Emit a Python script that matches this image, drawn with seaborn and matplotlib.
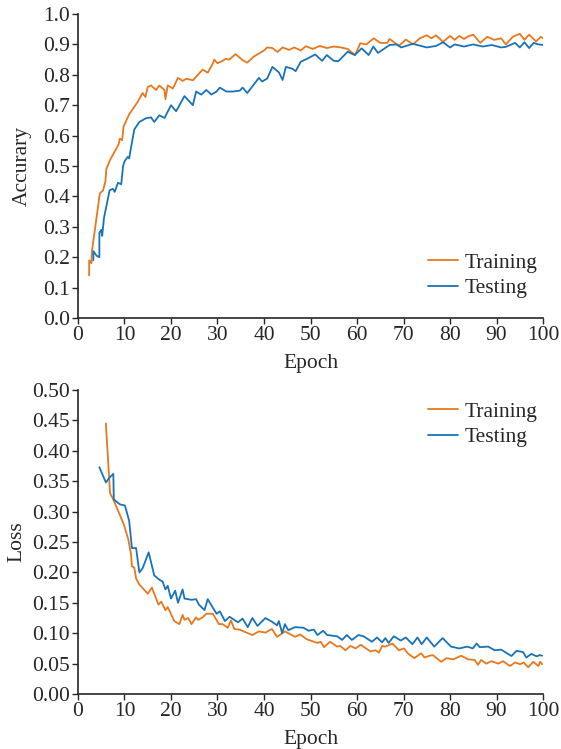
import pandas as pd
import matplotlib
matplotlib.use("Agg")
import matplotlib.pyplot as plt
import seaborn as sns

# accuracy curves (epoch, value)
acc_train_epoch = [2.4, 2.4, 2.9, 3.0, 4.7, 5.4, 5.9, 6.1, 6.9, 8.7, 9.0, 9.5, 9.8, 11.0, 12.8, 13.9,
                   14.5, 15.0, 15.7, 16.8, 17.5, 18.6, 18.8, 19.3, 20.4, 21.5, 22.5, 23.3, 24.7, 26.8,
                   27.9, 29.0, 29.3, 30.0, 31.0, 31.8, 32.5, 33.9, 35.4, 36.4, 37.8, 38.9, 40.0, 40.7,
                   41.8, 42.9, 44.0, 45.4, 46.5, 47.9, 49.0, 50.5, 52.0, 53.5, 55.0, 56.5, 58.0, 59.6,
                   60.7, 62.0, 63.6, 65.0, 66.5, 67.0, 69.0, 70.5, 72.0, 73.5, 75.0, 76.0, 77.0, 78.5,
                   80.0, 81.0, 82.0, 83.0, 84.0, 85.0, 86.5, 88.0, 89.5, 91.0, 92.0, 93.5, 95.0, 96.0,
                   97.0, 98.5, 99.5, 100.0]
acc_train = [0.14, 0.19, 0.18, 0.22, 0.41, 0.42, 0.45, 0.49, 0.52, 0.57, 0.59, 0.585, 0.63, 0.67, 0.71, 0.74,
             0.727, 0.76, 0.765, 0.75, 0.765, 0.75, 0.72, 0.765, 0.755, 0.79, 0.78, 0.787, 0.782, 0.817,
             0.807, 0.837, 0.85, 0.838, 0.845, 0.853, 0.85, 0.868, 0.848, 0.84, 0.86, 0.87, 0.88, 0.89,
             0.888, 0.875, 0.89, 0.882, 0.89, 0.88, 0.894, 0.885, 0.895, 0.888, 0.893, 0.89, 0.885, 0.865,
             0.904, 0.9, 0.92, 0.905, 0.905, 0.918, 0.895, 0.916, 0.9, 0.92, 0.93, 0.92, 0.93, 0.908,
             0.928, 0.915, 0.928, 0.918, 0.927, 0.932, 0.905, 0.925, 0.915, 0.92, 0.9, 0.925, 0.935, 0.915,
             0.932, 0.91, 0.925, 0.92]

acc_test_epoch = [3.3, 3.3, 4.0, 4.6, 4.6, 5.0, 5.2, 5.6, 6.0, 6.8, 7.5, 7.9, 8.6, 9.3, 9.7, 10.0, 10.7,
                  11.0, 11.4, 12.1, 13.2, 14.6, 15.7, 16.4, 17.5, 18.6, 20.0, 21.1, 22.9, 24.7, 25.4,
                  26.5, 27.6, 28.7, 29.8, 30.5, 31.9, 33.3, 34.8, 35.4, 36.4, 37.5, 38.9, 39.6, 40.7,
                  41.8, 43.2, 44.0, 44.7, 46.1, 46.8, 47.9, 49.3, 51.0, 52.5, 53.5, 55.0, 56.0, 58.0,
                  59.5, 61.0, 62.5, 63.5, 64.5, 67.0, 68.5, 69.5, 72.0, 75.0, 77.0, 78.5, 80.0, 81.0,
                  83.0, 85.0, 87.0, 89.0, 91.0, 92.0, 94.0, 95.0, 96.0, 97.0, 98.0, 99.0, 100.0]
acc_test = [0.19, 0.22, 0.205, 0.2, 0.28, 0.29, 0.27, 0.33, 0.36, 0.42, 0.425, 0.415, 0.445, 0.44, 0.5, 0.515,
            0.53, 0.525, 0.56, 0.62, 0.645, 0.657, 0.66, 0.645, 0.667, 0.658, 0.7, 0.68, 0.73, 0.7, 0.745,
            0.735, 0.75, 0.735, 0.745, 0.758, 0.745, 0.745, 0.748, 0.758, 0.74, 0.762, 0.79, 0.778, 0.788,
            0.826, 0.808, 0.783, 0.826, 0.82, 0.812, 0.843, 0.853, 0.867, 0.846, 0.865, 0.846, 0.845, 0.876,
            0.865, 0.887, 0.865, 0.893, 0.872, 0.898, 0.9, 0.89, 0.902, 0.89, 0.895, 0.907, 0.89, 0.9,
            0.893, 0.9, 0.893, 0.898, 0.89, 0.892, 0.905, 0.89, 0.907, 0.888, 0.905, 0.9, 0.898]

# loss curves
loss_train_epoch = [6.0, 6.9, 7.6, 9.8, 10.8, 11.4, 11.6, 12.1, 12.5, 13.2, 15.0, 15.9, 17.3, 17.9, 18.8,
                    19.3, 20.7, 21.8, 22.5, 22.9, 23.7, 24.4, 25.4, 25.8, 26.8, 27.6, 29.0, 30.3, 31.1,
                    32.2, 32.9, 33.6, 34.7, 37.5, 38.9, 40.3, 41.7, 42.8, 44.5, 46.7, 47.8, 49.2, 51.5,
                    52.2, 52.9, 54.2, 55.7, 56.4, 57.5, 58.6, 59.7, 60.8, 62.9, 64.0, 64.7, 65.4, 66.1,
                    67.6, 69.0, 70.1, 70.9, 72.3, 73.8, 74.5, 75.6, 76.3, 78.1, 79.2, 80.7, 82.4, 83.9,
                    85.3, 86.0, 86.7, 87.8, 88.9, 90.4, 91.4, 92.9, 94.0, 95.1, 95.8, 96.8, 97.9, 99.0,
                    99.4, 99.8]
loss_train = [0.445, 0.33, 0.32, 0.28, 0.255, 0.23, 0.21, 0.208, 0.19, 0.18, 0.165, 0.175, 0.147, 0.152, 0.138,
              0.143, 0.12, 0.115, 0.13, 0.122, 0.125, 0.115, 0.126, 0.122, 0.126, 0.132, 0.132, 0.115, 0.115,
              0.109, 0.121, 0.107, 0.106, 0.097, 0.103, 0.101, 0.107, 0.094, 0.103, 0.094, 0.098, 0.09, 0.084,
              0.086, 0.077, 0.086, 0.078, 0.079, 0.072, 0.079, 0.075, 0.081, 0.07, 0.072, 0.068, 0.079, 0.078,
              0.083, 0.072, 0.075, 0.067, 0.059, 0.067, 0.06, 0.063, 0.064, 0.053, 0.059, 0.057, 0.063, 0.057,
              0.056, 0.048, 0.056, 0.05, 0.054, 0.05, 0.054, 0.046, 0.052, 0.049, 0.052, 0.044, 0.053, 0.046,
              0.053, 0.049]

loss_test_epoch = [4.6, 6.0, 6.9, 7.6, 7.7, 9.0, 10.1, 11.0, 11.6, 12.5, 13.2, 13.9, 15.2, 16.4, 17.5, 18.2,
                   18.8, 19.3, 20.0, 20.9, 21.5, 22.5, 22.9, 24.4, 25.4, 26.0, 27.2, 27.9, 29.8, 30.5,
                   31.6, 32.6, 34.4, 35.4, 36.5, 37.5, 38.6, 40.3, 41.7, 42.8, 43.2, 43.9, 44.5, 45.2,
                   46.7, 48.5, 49.6, 50.7, 51.5, 52.7, 53.6, 55.7, 56.8, 57.8, 58.9, 60.3, 61.4, 63.2,
                   64.3, 65.4, 66.1, 66.8, 67.9, 69.4, 70.5, 71.9, 73.0, 73.9, 75.0, 76.6, 78.4, 80.2,
                   82.0, 83.7, 84.9, 85.7, 86.4, 88.2, 89.6, 91.0, 93.2, 94.3, 95.7, 96.4, 97.5, 98.6,
                   99.3, 99.8]
loss_test = [0.373, 0.348, 0.357, 0.362, 0.32, 0.312, 0.31, 0.285, 0.24, 0.24, 0.2, 0.207, 0.233, 0.195, 0.188,
             0.185, 0.172, 0.178, 0.157, 0.17, 0.15, 0.172, 0.157, 0.155, 0.156, 0.147, 0.138, 0.156, 0.132,
             0.136, 0.12, 0.127, 0.118, 0.124, 0.11, 0.125, 0.112, 0.125, 0.119, 0.113, 0.12, 0.1, 0.115,
             0.105, 0.11, 0.109, 0.104, 0.106, 0.097, 0.104, 0.097, 0.095, 0.089, 0.097, 0.089, 0.097, 0.095,
             0.086, 0.093, 0.085, 0.092, 0.084, 0.095, 0.088, 0.093, 0.082, 0.093, 0.082, 0.093, 0.078, 0.092,
             0.078, 0.075, 0.078, 0.075, 0.083, 0.077, 0.078, 0.072, 0.073, 0.0625, 0.071, 0.069, 0.06, 0.066,
             0.062, 0.064, 0.063]

ORANGE = "#E8781E"
BLUE = "#1A72B8"

sns.set_style("ticks")
plt.rcParams["font.family"] = ["Liberation Serif", "DejaVu Serif"]
plt.rcParams["font.size"] = 15.5

fig = plt.figure(figsize=(5.61, 7.49), dpi=100)
ax1 = fig.add_axes([0.139, 0.5754, 0.829, 0.4059])
ax2 = fig.add_axes([0.139, 0.0734, 0.829, 0.4059])

line_kw = dict(lw=1.3, sort=False, estimator=None)
sns.lineplot(x=acc_train_epoch, y=acc_train, ax=ax1, color=ORANGE, label="Training", **line_kw)
sns.lineplot(x=acc_test_epoch, y=acc_test, ax=ax1, color=BLUE, label="Testing", **line_kw)
sns.lineplot(x=loss_train_epoch, y=loss_train, ax=ax2, color=ORANGE, label="Training", **line_kw)
sns.lineplot(x=loss_test_epoch, y=loss_test, ax=ax2, color=BLUE, label="Testing", **line_kw)

leg_kw = dict(frameon=False, handlelength=1.4, handletextpad=0.3, labelspacing=0.25, borderaxespad=0)

ax1.set_xlim(0, 100)
ax1.set_ylim(0, 1.0)
ax1.set_xticks(range(0, 101, 10))
ax1.set_yticks([i / 10 for i in range(11)])
ax1.set_yticklabels([f"{i / 10:.1f}" for i in range(11)])
ax1.set_xlabel("Epoch", labelpad=6)
ax1.set_ylabel("Accurary", labelpad=8)
ax1.legend(loc="lower right", bbox_to_anchor=(1.006, 0.037), **leg_kw)

ax2.set_xlim(0, 100)
ax2.set_ylim(0, 0.5)
ax2.set_xticks(range(0, 101, 10))
ax2.set_yticks([i * 0.05 for i in range(11)])
ax2.set_yticklabels([f"{i * 0.05:.2f}" for i in range(11)])
ax2.set_xlabel("Epoch", labelpad=6)
ax2.set_ylabel("Loss", labelpad=4)
ax2.legend(loc="upper right", bbox_to_anchor=(1.006, 0.99), **leg_kw)

for ax in (ax1, ax2):
    sns.despine(ax=ax)
    ax.tick_params(direction="out", length=4, width=1, pad=2)
    for s in ("left", "bottom"):
        ax.spines[s].set_linewidth(1.2)

plt.savefig("out.png", dpi=100)
